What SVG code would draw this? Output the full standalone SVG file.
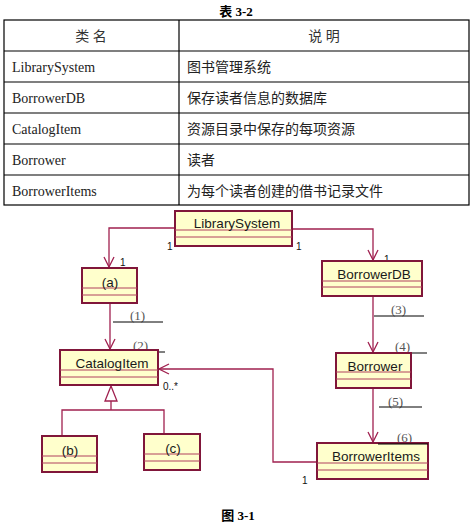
<svg xmlns="http://www.w3.org/2000/svg" width="472" height="526" viewBox="0 0 472 526">
<defs>
<style>
.tl{stroke:#000;stroke-width:1.2;fill:none}
.th{font-family:"Liberation Serif","Noto Sans CJK SC",serif;font-size:14px;fill:#333}
.tc{font-family:"Liberation Serif","Noto Sans CJK SC",serif;font-size:14px;fill:#222}
.bx{fill:#ffffcc;stroke:#80163a;stroke-width:2}
.cp{stroke:#b0405e;stroke-width:1}
.nm{font-family:"Liberation Sans",Arial,sans-serif;font-size:13.5px;fill:#1a1a1a;text-anchor:middle}
.cn{fill:none;stroke:#a0204f;stroke-width:1.3}
.ml{font-family:"Liberation Sans",Arial,sans-serif;font-size:10px;fill:#111}
.bl{font-family:"Liberation Serif",serif;font-size:13px;fill:#555}
.ul{stroke:#000;stroke-width:1}
.cap{font-family:"Liberation Serif","Noto Sans CJK SC",serif;font-size:13px;font-weight:bold;fill:#000;text-anchor:middle}
</style>
<marker id="op" viewBox="0 0 12 12" refX="11" refY="6" markerWidth="12" markerHeight="12" markerUnits="userSpaceOnUse" orient="auto">
<path d="M1,1 L11,6 L1,11" fill="none" stroke="#a0204f" stroke-width="1.3"/>
</marker>
</defs>
<rect width="472" height="526" fill="#fff"/>
<text class="cap" x="236" y="16">表 3-2</text>
<g id="table">
<rect class="tl" x="4" y="20" width="465" height="185"/>
<line class="tl" x1="179" y1="20" x2="179" y2="205"/>
<line class="tl" x1="4" y1="51" x2="469" y2="51"/>
<line class="tl" x1="4" y1="82" x2="469" y2="82"/>
<line class="tl" x1="4" y1="113" x2="469" y2="113"/>
<line class="tl" x1="4" y1="144" x2="469" y2="144"/>
<line class="tl" x1="4" y1="175" x2="469" y2="175"/>
<text class="th" x="91" y="41" text-anchor="middle">类  名</text>
<text class="th" x="324" y="41" text-anchor="middle">说  明</text>
<text class="tc" x="12" y="72">LibrarySystem</text>
<text class="tc" x="12" y="103">BorrowerDB</text>
<text class="tc" x="12" y="134">CatalogItem</text>
<text class="tc" x="12" y="165">Borrower</text>
<text class="tc" x="12" y="196">BorrowerItems</text>
<text class="tc" x="187" y="72">图书管理系统</text>
<text class="tc" x="187" y="103">保存读者信息的数据库</text>
<text class="tc" x="187" y="134">资源目录中保存的每项资源</text>
<text class="tc" x="187" y="165">读者</text>
<text class="tc" x="187" y="196">为每个读者创建的借书记录文件</text>
</g>
<g id="connectors">
<polyline class="cn" points="175,228 109,228 109,267" marker-end="url(#op)"/>
<polyline class="cn" points="292,229 373,229 373,260" marker-end="url(#op)"/>
<line class="cn" x1="110" y1="303" x2="110" y2="349" marker-end="url(#op)"/>
<line class="cn" x1="373" y1="296" x2="373" y2="352" marker-end="url(#op)"/>
<line class="cn" x1="373" y1="388" x2="373" y2="442" marker-end="url(#op)"/>
<polyline class="cn" points="317,462 273,462 273,369 159,369" marker-end="url(#op)"/>
<path class="cn" d="M111,386 L105,401 L117,401 Z M111,401 L111,410 M62,436 L62,410 L164,410 L164,434"/>
<text class="ml" x="167" y="250">1</text>
<text class="ml" x="120" y="266">1</text>
<text class="ml" x="296" y="250">1</text>
<text class="ml" x="384" y="263">1</text>
<text class="ml" x="163" y="390">0..*</text>
<text class="ml" x="302" y="484">1</text>
<text class="bl" x="130" y="320">(1)</text>
<line class="ul" x1="113" y1="322" x2="163" y2="322"/>
<text class="bl" x="133" y="350">(2)</text>
<line class="ul" x1="115" y1="352" x2="165" y2="352"/>
<text class="bl" x="391" y="314">(3)</text>
<line class="ul" x1="374" y1="316" x2="424" y2="316"/>
<text class="bl" x="395" y="351">(4)</text>
<line class="ul" x1="377" y1="353" x2="427" y2="353"/>
<text class="bl" x="388" y="406">(5)</text>
<line class="ul" x1="379" y1="407" x2="422" y2="407"/>
<text class="bl" x="397" y="442">(6)</text>
<line class="ul" x1="378" y1="444" x2="428" y2="444"/>
</g>
<g id="LibrarySystem">
<rect class="bx" x="175" y="211" width="117" height="35"/>
<line class="cp" x1="175" y1="230" x2="292" y2="230"/>
<line class="cp" x1="175" y1="237" x2="292" y2="237"/>
<text class="nm" x="237" y="228">LibrarySystem</text>
</g>
<g id="a">
<rect class="bx" x="82" y="268" width="55" height="35"/>
<line class="cp" x1="82" y1="288" x2="137" y2="288"/>
<line class="cp" x1="82" y1="295" x2="137" y2="295"/>
<text class="nm" x="110" y="287">(a)</text>
</g>
<g id="BorrowerDB">
<rect class="bx" x="322" y="261" width="100" height="35"/>
<line class="cp" x1="322" y1="281" x2="422" y2="281"/>
<line class="cp" x1="322" y1="287" x2="422" y2="287"/>
<text class="nm" x="374" y="279">BorrowerDB</text>
</g>
<g id="CatalogItem">
<rect class="bx" x="60" y="350" width="98" height="35"/>
<line class="cp" x1="60" y1="370" x2="158" y2="370"/>
<line class="cp" x1="60" y1="377" x2="158" y2="377"/>
<text class="nm" x="112" y="368">CatalogItem</text>
</g>
<g id="Borrower">
<rect class="bx" x="336" y="353" width="75" height="35"/>
<line class="cp" x1="336" y1="372" x2="411" y2="372"/>
<line class="cp" x1="336" y1="379" x2="411" y2="379"/>
<text class="nm" x="375" y="371">Borrower</text>
</g>
<g id="b">
<rect class="bx" x="42" y="436" width="55" height="36"/>
<line class="cp" x1="42" y1="456" x2="97" y2="456"/>
<line class="cp" x1="42" y1="463" x2="97" y2="463"/>
<text class="nm" x="70" y="455">(b)</text>
</g>
<g id="c">
<rect class="bx" x="144" y="434" width="56" height="36"/>
<line class="cp" x1="144" y1="454" x2="200" y2="454"/>
<line class="cp" x1="144" y1="461" x2="200" y2="461"/>
<text class="nm" x="173" y="453">(c)</text>
</g>
<g id="BorrowerItems">
<rect class="bx" x="317" y="443" width="111" height="36"/>
<line class="cp" x1="317" y1="463" x2="428" y2="463"/>
<line class="cp" x1="317" y1="470" x2="428" y2="470"/>
<text class="nm" x="376" y="461">BorrowerItems</text>
<line class="ul" x1="378" y1="444" x2="428" y2="444"/>
</g>
<text class="cap" x="238" y="520">图 3-1</text>
</svg>
